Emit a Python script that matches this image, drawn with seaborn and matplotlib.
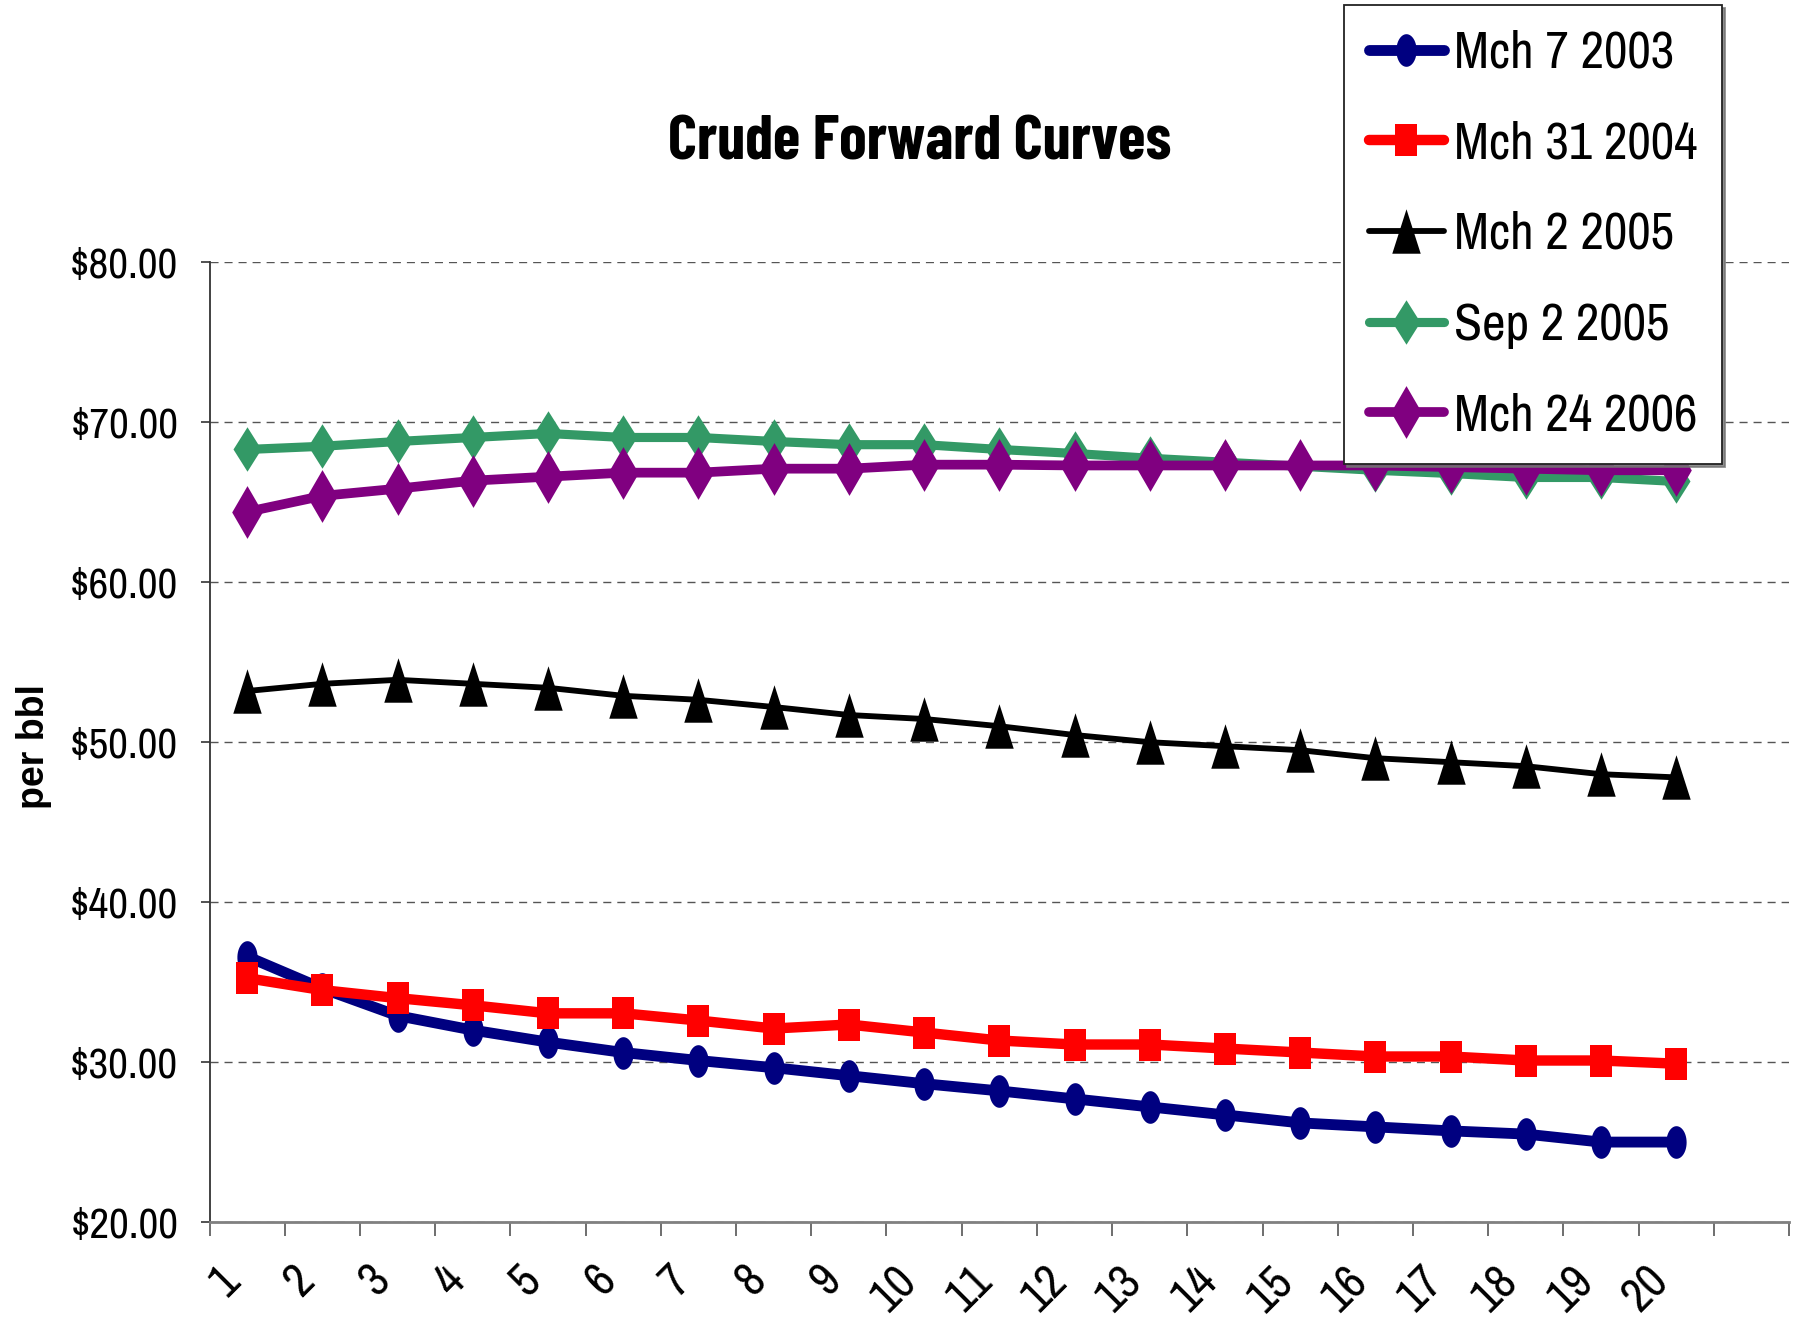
import numpy as np
import pandas as pd
import matplotlib
matplotlib.use("Agg")
import matplotlib.pyplot as plt
from matplotlib.ticker import FuncFormatter, MultipleLocator
import seaborn as sns

# Contract month numbers and forward prices ($/bbl) for each curve date
months = list(range(1, 21))
mch_7_2003 = [36.6, 34.6, 32.9, 32.0, 31.25, 30.6, 30.1, 29.65, 29.15, 28.65,
              28.2, 27.7, 27.2, 26.7, 26.2, 25.95, 25.7, 25.5, 25.0, 25.0]
mch_31_2004 = [35.25, 34.5, 34.0, 33.55, 33.05, 33.05, 32.6, 32.1, 32.35, 31.85,
               31.35, 31.1, 31.1, 30.85, 30.6, 30.35, 30.35, 30.1, 30.1, 29.9]
mch_2_2005 = [53.2, 53.65, 53.9, 53.65, 53.4, 52.9, 52.65, 52.2, 51.7, 51.45,
              51.0, 50.45, 50.0, 49.75, 49.5, 49.0, 48.75, 48.5, 48.0, 47.8]
sep_2_2005 = [68.3, 68.5, 68.8, 69.05, 69.3, 69.05, 69.05, 68.8, 68.6, 68.6,
              68.3, 68.05, 67.75, 67.5, 67.25, 67.0, 66.8, 66.55, 66.55, 66.3]
mch_24_2006 = [64.4, 65.4, 65.85, 66.35, 66.6, 66.85, 66.85, 67.1, 67.1, 67.35,
               67.35, 67.3, 67.3, 67.3, 67.3, 67.3, 67.2, 67.1, 67.0, 67.0]

series_names = ["Mch 7 2003", "Mch 31 2004", "Mch 2 2005", "Sep 2 2005", "Mch 24 2006"]
series_values = [mch_7_2003, mch_31_2004, mch_2_2005, sep_2_2005, mch_24_2006]
month_labels = [str(m) for m in months]

df = pd.DataFrame({
    "month": np.tile(months, len(series_names)),
    "price": np.concatenate(series_values),
    "curve": np.repeat(series_names, len(months)),
})

# Tall marker outlines (vertices normalised by matplotlib)
t = np.linspace(0, 2 * np.pi, 48)
ellipse = np.column_stack([0.62 * np.cos(t), np.sin(t)])
rect = np.array([[-0.66, -1], [0.66, -1], [0.66, 1], [-0.66, 1], [-0.66, -1]])
tri = np.array([[0, 1], [0.64, -1], [-0.64, -1], [0, 1]])
diam_g = np.array([[0, 1], [0.63, 0], [0, -1], [-0.63, 0], [0, 1]])
diam_p = np.array([[0, 1], [0.58, 0], [0, -1], [-0.58, 0], [0, 1]])

styles = {
    "Mch 7 2003": dict(color="#000080", marker=ellipse, ms=23.5, lw=7.8),
    "Mch 31 2004": dict(color="#FF0000", marker=rect, ms=23.5, lw=7.5),
    "Mch 2 2005": dict(color="#000000", marker=tri, ms=32, lw=4.2),
    "Sep 2 2005": dict(color="#339966", marker=diam_g, ms=32, lw=6.6),
    "Mch 24 2006": dict(color="#800080", marker=diam_p, ms=38, lw=7.0),
}

sns.set_style("white")
plt.rcParams["font.family"] = ["Archivo Narrow", "DejaVu Sans"]
for key in ("text.color", "axes.labelcolor", "xtick.labelcolor", "ytick.labelcolor"):
    plt.rcParams[key] = "black"

fig = plt.figure(figsize=(17.96, 13.35), dpi=100)
ax = fig.add_axes([0.1167, 0.0846, 0.8794, 0.7189])

for name in series_names:
    st = styles[name]
    sub = df[df["curve"] == name]
    sns.lineplot(data=sub, x="month", y="price", ax=ax, label=name,
                 color=st["color"], linewidth=st["lw"], marker=st["marker"],
                 markersize=st["ms"], markeredgecolor=st["color"],
                 markeredgewidth=0, markerfacecolor=st["color"], zorder=3)

ax.set_xlim(0.5, 21.5)
ax.set_ylim(20, 80)

# y axis: dollar ticks with dashed grid
ax.yaxis.set_major_locator(MultipleLocator(10))
ax.yaxis.set_major_formatter(FuncFormatter(lambda v, p: f"\\${v:.2f}"))
ax.yaxis.grid(True, color="#555555", linewidth=1.0, linestyle=(0, (5.8, 4.3)))
ax.xaxis.grid(False)
ax.tick_params(axis="y", which="major", direction="out", length=6.5, width=1.2,
               color="#333333", pad=16, labelsize=31, left=True)

# x axis: labels at category centres, tick marks at category boundaries
ax.set_xticks(months)
ax.set_xticklabels(month_labels, rotation=45, ha="right", va="top",
                   rotation_mode="default")
ax.set_xticks(np.arange(0.5, 22.0, 1.0), minor=True)
ax.tick_params(axis="x", which="major", length=0, pad=26, labelsize=34)
ax.tick_params(axis="x", which="minor", direction="out", length=10, width=1.2,
               color="#555555", bottom=True)

for side in ("top", "right"):
    ax.spines[side].set_visible(False)
ax.spines["left"].set_color("#333333")
ax.spines["left"].set_linewidth(1.3)
ax.spines["bottom"].set_color("#808080")
ax.spines["bottom"].set_linewidth(2.0)

ax.set_xlabel("")
ax.set_ylabel("per bbl", fontsize=27, fontweight="bold",
              family=["Liberation Sans", "DejaVu Sans"], ha="center", va="center")
ax.yaxis.set_label_coords(-0.111, 0.495)

fig.text(0.512, 0.893, "Crude Forward Curves", fontsize=45, fontweight="bold",
         family=["Barlow Condensed", "DejaVu Sans"], ha="center", va="center")

leg = ax.legend(loc="upper right", bbox_to_anchor=(0.9588, 0.9963),
                bbox_transform=fig.transFigure, borderaxespad=0,
                fontsize=37, frameon=True, fancybox=False,
                shadow={"color": "0.45", "alpha": 0.8},
                handlelength=1.45, handletextpad=0.2, labelspacing=0.85,
                borderpad=0.48)
leg.get_frame().set_edgecolor("#222222")
leg.get_frame().set_linewidth(1.3)
leg.set_zorder(5)

fig.savefig("out.png", dpi=100)
